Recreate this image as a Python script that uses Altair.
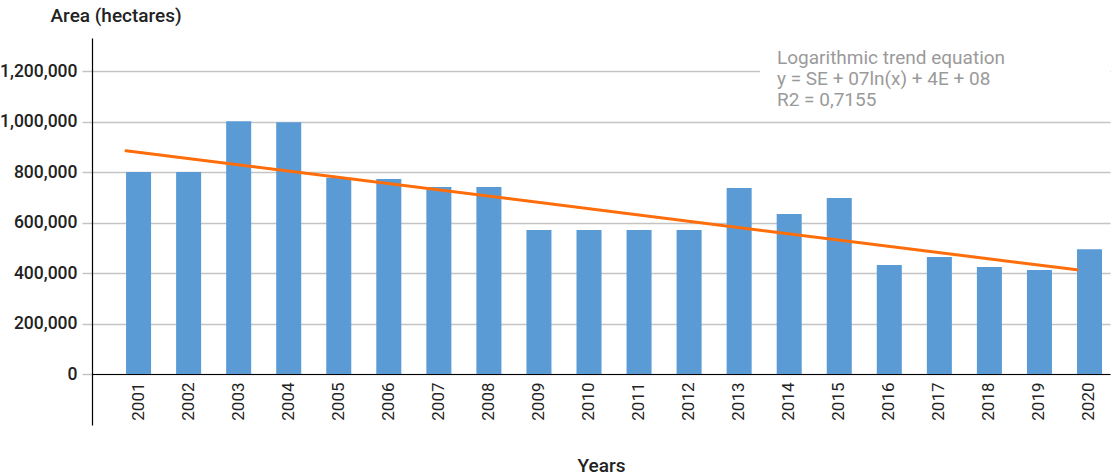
import altair as alt
import pandas as pd

years = [str(y) for y in range(2001, 2021)]
areas = [801000, 801000, 1002000, 998000, 778000, 773000, 741000, 741000,
         571000, 571000, 571000, 571000, 737000, 634000, 698000, 432000,
         464000, 424000, 412000, 495000]
trend_years = ["2001", "2020"]
trend_values = [885000, 413000]
y_ticks = [0, 200000, 400000, 600000, 800000, 1000000, 1200000]
note_lines = "Logarithmic trend equation\ny = SE + 07ln(x) + 4E + 08\nR2 = 0,7155"

FONT = "Roboto"
bars_df = pd.DataFrame({"year": years, "area": areas})
trend_df = pd.DataFrame({"year": trend_years, "area": trend_values})
note_df = pd.DataFrame({"t": [note_lines]})

xscale = alt.Scale(domain=years, paddingInner=0.5, paddingOuter=0.42, align=0.81)
yscale = alt.Scale(domain=[-202000, 1332000], nice=False, zero=False)

x_axis = alt.Axis(
    title="Years", titleFont=FONT, titleFontSize=19, titleFontWeight=500,
    titleColor="#222222", titleBaseline="middle", titleY=91,
    labelAngle=-90, labelFont=FONT, labelFontSize=17, labelColor="#222222",
    labelPadding=8, ticks=False, domainColor="#000000", domainWidth=1.2,
    offset=-51, grid=False,
)
y_axis = alt.Axis(
    title="Area (hectares)", titleFont=FONT, titleFontSize=19, titleFontWeight=500,
    titleColor="#222222", titleAngle=0, titleAlign="left", titleBaseline="middle",
    titleX=-42, titleY=-23,
    values=y_ticks, format=",d", labelFont=FONT, labelFontSize=17.5,
    labelFontWeight=500, labelColor="#222222", labelPadding=5,
    tickSize=10, tickColor="#c4c4c4", tickWidth=1.5,
    gridColor="#c4c4c4", gridWidth=1.5, domainColor="#000000", domainWidth=1.2,
)

bars = alt.Chart(bars_df).mark_bar(color="#5b9bd5").encode(
    x=alt.X("year:N", scale=xscale, axis=x_axis, sort=years),
    y=alt.Y("area:Q", scale=yscale, axis=y_axis),
    y2=alt.datum(0),
)

trend = alt.Chart(trend_df).mark_line(color="#ff6d0a", strokeWidth=3, strokeCap="round").encode(
    x=alt.X("year:N", scale=xscale, sort=years, bandPosition=0),
    y=alt.Y("area:Q", scale=yscale),
)

cover = alt.Chart(note_df).mark_rect(color="white").encode(
    x=alt.value(668), x2=alt.value(1018), y=alt.value(4), y2=alt.value(72),
)

note = alt.Chart(note_df).mark_text(
    font=FONT, fontSize=19, fontWeight="normal", color="#9a9a9a", align="left",
    baseline="middle", lineBreak="\n", lineHeight=21,
).encode(
    x=alt.value(685), y=alt.value(20), text="t:N",
)

chart = alt.layer(bars, cover, note, trend).properties(
    width=1018, height=387,
    autosize=alt.AutoSizeParams(type="none"),
    padding={"left": 92, "top": 38, "right": 3, "bottom": 50},
).configure_view(stroke=None)

chart.save("out.html", embed_options={"renderer": "svg", "actions": False})
